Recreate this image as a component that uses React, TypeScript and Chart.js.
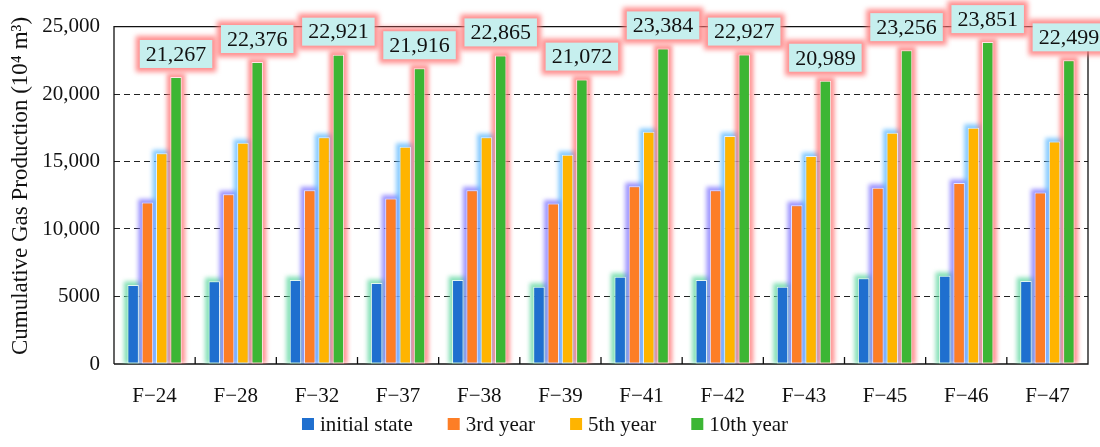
import React, { useEffect, useRef } from "react";
import { Chart, registerables } from "chart.js";

Chart.register(...registerables);

const wells = ["F−24", "F−28", "F−32", "F−37", "F−38", "F−39", "F−41", "F−42", "F−43", "F−45", "F−46", "F−47"];
const initialState = [5860, 6130, 6220, 6000, 6220, 5730, 6470, 6220, 5730, 6350, 6540, 6150];
const year3 = [11960, 12580, 12870, 12260, 12870, 11890, 13170, 12870, 11770, 13060, 13410, 12700];
const year5 = [15610, 16390, 16800, 16100, 16800, 15510, 17200, 16900, 15410, 17130, 17510, 16490];
const year10 = [21267, 22376, 22921, 21916, 22865, 21072, 23384, 22927, 20989, 23256, 23851, 22499];

const seriesNames = ["initial state", "3rd year", "5th year", "10th year"];
const seriesColors = ["#1f6fcf", "#fd7e26", "#ffb400", "#3cb634"];
const glowColors = [
  "rgba(95, 215, 160, 0.75)",
  "rgba(125, 115, 255, 0.75)",
  "rgba(95, 185, 255, 0.75)",
  "rgba(255, 115, 115, 0.75)",
];
const axisTitle = "Cumulative Gas Production (10⁴ m³)";

const FONT = "'Liberation Serif', 'Times New Roman', serif";

const fmt = (v: number) => (v === 5000 ? "5000" : v.toLocaleString("en-US"));

// plot frame, category ticks and soft coloured halos behind the bars
const framePlugin = {
  id: "frame",
  beforeDatasetsDraw(chart: any) {
    const { ctx, chartArea: a, scales } = chart;
    ctx.save();
    ctx.strokeStyle = "#111";
    ctx.lineWidth = 1.3;
    ctx.beginPath();
    ctx.moveTo(a.left, a.bottom);
    ctx.lineTo(a.left, a.top);
    ctx.lineTo(a.right, a.top);
    ctx.lineTo(a.right, a.bottom);
    ctx.lineTo(a.left, a.bottom);
    ctx.stroke();
    const x = scales.x;
    const half = (x.getPixelForValue(1) - x.getPixelForValue(0)) / 2;
    ctx.beginPath();
    for (let i = 1; i < wells.length; i++) {
      const px = x.getPixelForValue(i) - half;
      ctx.moveTo(px, a.bottom);
      ctx.lineTo(px, a.bottom - 7);
    }
    ctx.stroke();
    ctx.restore();

    ctx.save();
    ctx.beginPath();
    ctx.rect(a.left, 0, a.right - a.left, a.bottom);
    ctx.clip();
    ctx.filter = "blur(2px)";
    chart.data.datasets.forEach((_: any, di: number) => {
      const meta = chart.getDatasetMeta(di);
      ctx.fillStyle = glowColors[di];
      meta.data.forEach((bar: any) => {
        const w = bar.width;
        const pad = 3.5;
        ctx.fillRect(bar.x - w / 2 - pad, bar.y - pad, w + pad * 2, bar.base - bar.y + pad);
      });
    });
    ctx.restore();
  },
};

// value boxes above the 10th-year bars
const valueBoxPlugin = {
  id: "valueBoxes",
  afterDatasetsDraw(chart: any) {
    const { ctx } = chart;
    const meta = chart.getDatasetMeta(3);
    const data = chart.data.datasets[3].data as number[];
    ctx.save();
    ctx.font = `22px ${FONT}`;
    ctx.textAlign = "center";
    ctx.textBaseline = "middle";
    meta.data.forEach((bar: any, i: number) => {
      const text = fmt(data[i]);
      const w = ctx.measureText(text).width + 12;
      const h = 28;
      const cx = bar.x;
      const cy = bar.y - 23;
      ctx.save();
      ctx.filter = "blur(2.5px)";
      ctx.fillStyle = "rgba(255, 115, 115, 0.8)";
      ctx.fillRect(cx - w / 2 - 4, cy - h / 2 - 4, w + 8, h + 8);
      ctx.restore();
      ctx.fillStyle = "#c6efee";
      ctx.fillRect(cx - w / 2, cy - h / 2, w, h);
      ctx.fillStyle = "#111";
      ctx.fillText(text, cx, cy + 1);
    });
    ctx.restore();
  },
};

// legend row under the category labels and the vertical axis title
const legendPlugin = {
  id: "legendRow",
  afterDraw(chart: any) {
    const { ctx } = chart;
    ctx.save();
    ctx.font = `21px ${FONT}`;
    ctx.textBaseline = "middle";
    const box = 12;
    const gapText = 6;
    const gapItem = 35;
    const widths = seriesNames.map((n) => box + gapText + ctx.measureText(n).width);
    const total = widths.reduce((s, w) => s + w, 0) + gapItem * (widths.length - 1);
    let x = 545 - total / 2;
    const cy = 424;
    seriesNames.forEach((n, i) => {
      ctx.fillStyle = seriesColors[i];
      ctx.fillRect(x, cy - box / 2, box, box);
      ctx.fillStyle = "#111";
      ctx.fillText(n, x + box + gapText, cy + 1);
      x += widths[i] + gapItem;
    });
    ctx.restore();

    ctx.save();
    ctx.translate(21, 186);
    ctx.rotate(-Math.PI / 2);
    ctx.font = `23px ${FONT}`;
    ctx.textAlign = "center";
    ctx.textBaseline = "middle";
    ctx.fillStyle = "#111";
    ctx.fillText(axisTitle, 0, 0);
    ctx.restore();
  },
};

export default function App() {
  const ref = useRef<HTMLCanvasElement | null>(null);

  useEffect(() => {
    if (!ref.current) return;
    const series = [initialState, year3, year5, year10];
    const chart = new Chart(ref.current, {
      type: "bar",
      data: {
        labels: wells,
        datasets: series.map((d, i) => ({
          label: seriesNames[i],
          data: d,
          backgroundColor: seriesColors[i],
          borderColor: "rgba(255,255,255,0.75)",
          borderWidth: 1,
          borderSkipped: false,
          categoryPercentage: 0.705,
          barPercentage: 0.8,
        })),
      },
      options: {
        responsive: true,
        maintainAspectRatio: false,
        animation: false,
        layout: { padding: { left: 0, right: 12, top: 22, bottom: 0 } },
        plugins: {
          legend: { display: false },
          tooltip: { enabled: false },
        },
        scales: {
          x: {
            grid: { display: false },
            border: { display: false },
            ticks: {
              color: "#111",
              font: { family: FONT, size: 21 },
              padding: 12,
              maxRotation: 0,
            },
            afterFit(scale: any) {
              scale.height = 83;
            },
          },
          y: {
            min: 0,
            max: 25000,
            border: { display: false, dash: [6, 4] },
            grid: {
              drawTicks: false,
              color: (c: any) =>
                c.tick && c.tick.value > 0 && c.tick.value < 25000 ? "#222" : "rgba(0,0,0,0)",
              lineWidth: 1.1,
            },
            ticks: {
              stepSize: 5000,
              color: "#111",
              font: { family: FONT, size: 21 },
              padding: 14,
              callback: (v: any) => fmt(Number(v)),
            },
            afterFit(scale: any) {
              scale.width = 114;
            },
          },
        },
      },
      plugins: [framePlugin, valueBoxPlugin, legendPlugin],
    });
    return () => chart.destroy();
  }, []);

  return (
    <div style={{ position: "fixed", left: 0, top: 0, width: 1100, height: 447, background: "#fff" }}>
      <canvas ref={ref} />
    </div>
  );
}
